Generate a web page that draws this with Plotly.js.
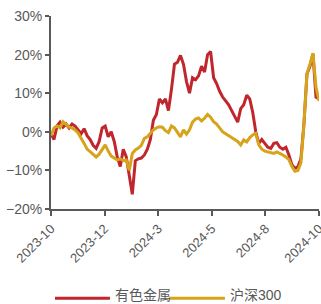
<!DOCTYPE html>
<html>
<head>
<meta charset="utf-8">
<script src="https://cdn.plot.ly/plotly-3.0.1.min.js"></script>
<style>html,body{margin:0;padding:0;background:#fff;}#chart{width:321px;height:304px;}</style>
</head>
<body>
<div id="chart"></div>
<script>
var tickLabels = ["2023-10","2023-12","2024-3","2024-5","2024-8","2024-10"];
var seriesNames = ["有色金属","沪深300"];
var seriesColors = ["#C0262D","#D6A41B"];
var metals = [-0.5,-2.0,1.5,2.5,1.2,2.0,1.0,2.0,1.5,0.5,
  -0.5,0.8,-1.0,-2.0,-3.5,-4.3,-2.5,1.0,1.5,-1.3,
  0.0,-2.5,-6.5,-9.0,-4.5,-6.5,-12.0,-16.2,-7.5,-7.0,
  -6.8,-6.0,-4.5,-2.0,3.0,4.5,8.5,7.5,8.5,5.5,
  11.0,17.5,18.0,19.8,17.5,13.0,10.0,14.0,13.5,14.5,
  17.0,15.5,20.0,20.8,14.0,12.5,10.5,9.0,8.0,7.0,
  5.5,4.0,2.5,6.0,7.0,9.5,8.5,5.0,0.0,-3.0,
  -2.0,-3.0,-4.0,-4.3,-3.0,-2.8,-4.0,-4.5,-4.0,-6.0,
  -8.5,-9.5,-9.0,-7.0,2.0,15.0,17.0,20.2,9.0,8.5];
var hs300 = [-1.0,1.0,1.5,1.0,2.6,1.8,1.2,1.0,0.5,-0.3,
  -1.5,-3.0,-4.5,-5.2,-6.0,-6.5,-5.8,-4.5,-3.4,-5.0,
  -6.3,-6.8,-7.3,-7.0,-7.5,-7.3,-10.0,-5.6,-4.7,-4.2,
  -3.5,-1.7,-1.3,-0.4,0.5,1.0,1.3,1.2,0.3,-0.2,
  1.5,1.0,0.0,-1.3,0.5,-0.6,0.5,2.5,3.3,3.6,
  2.8,3.5,4.5,3.8,2.6,2.0,1.0,0.0,-0.5,-1.0,
  -1.7,-2.0,-2.5,-3.4,-2.1,-2.6,-1.5,-0.8,-0.4,-3.4,
  -4.5,-5.0,-5.2,-5.5,-5.6,-5.2,-5.5,-6.0,-6.5,-7.2,
  -9.0,-10.2,-10.0,-8.0,2.0,15.0,17.5,20.4,11.5,8.0];
var days = metals.map(function(_, i){ return i; });
var last = days.length - 1;
var tickVals = tickLabels.map(function(_, i){ return Math.round(i * last / (tickLabels.length - 1) * 1000) / 1000; });

var traces = [
  {x: days, y: metals, name: seriesNames[0], type: 'scatter', mode: 'lines',
   line: {color: seriesColors[0], width: 3}},
  {x: days, y: hs300, name: seriesNames[1], type: 'scatter', mode: 'lines',
   line: {color: seriesColors[1], width: 3}}
];

// custom legend (long line samples like the reference)
var legLineY = -0.462;
var legTextY = -0.447;
var legendItems = [
  {x0: 0.015, x1: 0.220, tx: 0.233},
  {x0: 0.440, x1: 0.649, tx: 0.662}
];
var shapes = legendItems.map(function(it, i){
  return {type: 'line', xref: 'paper', yref: 'paper', x0: it.x0, x1: it.x1, y0: legLineY, y1: legLineY,
          line: {color: seriesColors[i], width: 3}};
});
var annotations = legendItems.map(function(it, i){
  return {xref: 'paper', yref: 'paper', x: it.tx, y: legTextY, xanchor: 'left', yanchor: 'middle',
          text: seriesNames[i], showarrow: false, font: {size: 14, color: '#595959'}};
});

var layout = {
  width: 321, height: 304,
  margin: {l: 51, r: 2, t: 16, b: 95, autoexpand: false},
  paper_bgcolor: '#fff', plot_bgcolor: '#fff',
  font: {family: 'Arial, "Liberation Sans", "Noto Sans CJK SC", sans-serif', size: 13, color: '#595959'},
  showlegend: false,
  shapes: shapes,
  annotations: annotations,
  xaxis: {range: [0, last], tickmode: 'array', tickvals: tickVals, ticktext: tickLabels,
          tickangle: -45, showgrid: false, zeroline: false, showline: true, automargin: false,
          ticklabeloverflow: 'allow',
          linecolor: '#595959', linewidth: 2, ticks: 'outside', ticklen: 5, tickwidth: 2,
          tickcolor: '#595959', tickfont: {size: 13, color: '#595959'}},
  yaxis: {range: [-20, 30], dtick: 10, ticksuffix: '%', showgrid: false, zeroline: false,
          automargin: false,
          showline: true, linecolor: '#595959', linewidth: 2, ticks: 'outside', ticklen: 4,
          tickwidth: 2, tickcolor: '#595959', tickfont: {size: 14, color: '#595959'}}
};
Plotly.newPlot('chart', traces, layout, {displayModeBar: false, staticPlot: true});
</script>
</body>
</html>
